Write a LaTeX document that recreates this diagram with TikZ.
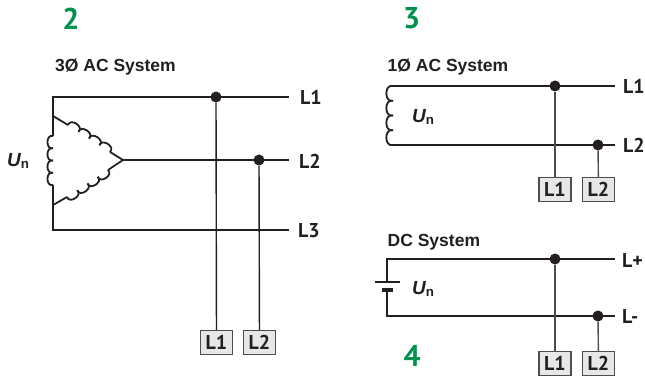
\documentclass[tikz,border=0pt]{standalone}
\usepackage{fontspec}
\setmainfont{Liberation Sans}
\newfontfamily\labelfont{PT Sans}
\usetikzlibrary{calc}
\definecolor{numgreen}{HTML}{00914C}
\definecolor{boxfill}{HTML}{E6E7E8}
\definecolor{boxline}{HTML}{4D4D4F}
\definecolor{wire}{HTML}{231F20}
\newcommand\un{{\bfseries\itshape U}\textsubscript{\bfseries n}}
\newcommand\windings[2]{\foreach \w/\v in {0/.25,.25/.5,.5/.75,.75/1}{\draw[leg] ($(#1)!\w!(#2)$) to[bend right=105, looseness=1.6] ($(#1)!\v!(#2)$);}}

\begin{document}
\begin{tikzpicture}[x = 1pt, y = -1pt,
  num/.style = {text = numgreen, inner sep = 0pt, font = \labelfont\fontsize{30}{30}\selectfont\bfseries},
  title/.style = {text = wire, anchor = west, inner sep = 0pt, font = \fontsize{17.5}{17.5}\selectfont\bfseries},
  lname/.style = {text = wire, anchor = west, inner sep = 0pt, font = \labelfont\fontsize{20}{20}\selectfont\bfseries},
  volt/.style = {text = wire, anchor = west, inner sep = 0pt, font = \fontsize{19}{19}\selectfont},
  tap/.style = {draw = boxline, fill = boxfill, line width = 1.2pt, minimum width = 32pt, minimum height = 24pt, inner sep = 0pt, text = wire, font = \labelfont\fontsize{20}{20}\selectfont\bfseries},
  dot/.style = {circle, fill = wire, minimum size = 11pt, inner sep = 0pt},
  main/.style = {draw = wire, line width = 2.4pt},
  thin/.style = {draw = wire, line width = 1.4pt},
  drop/.style = {draw = boxline, line width = 1.4pt},
  leg/.style = {draw = wire, line width = 1.8pt}]
\useasboundingbox (0,0) rectangle (645,377);

\node[num] (n2) at (71,18.5){2};
\node[num] (n3) at (411.5,18.5){3};
\node[num] (n4) at (412,355.5){4};

\node[title] (t3ph) at (55,67){3Ø AC System};
\node[title] (t1ph) at (387.5,67){1Ø AC System};
\node[title] (tdc) at (387.5,242){DC System};

\node[lname] (a1) at (300,97){L1};
\node[lname] (a2) at (299,161){L2};
\node[lname] (a3) at (298,231){L3};
\node[lname] (b1) at (623,86){L1};
\node[lname] (b2) at (623,145){L2};
\node[lname] (c1) at (622,260){L+};
\node[lname] (c2) at (622,316){L-};

\node[volt] (ua) at (7,161){\un};
\node[volt] (ub) at (412,117){\un};
\node[volt] (uc) at (412,289){\un};

\node[tap] (ta1) at (216.5,342.5){L1};
\node[tap] (ta2) at (259.5,342.5){L2};
\node[tap] (tb1) at (555,189.5){L1};
\node[tap] (tb2) at (598.5,189.5){L2};
\node[tap] (tc1) at (555,363.5){L1};
\node[tap] (tc2) at (598.5,363.5){L2};

\node[dot] (da1) at (216,97){};
\node[dot] (da2) at (259,160){};
\node[dot] (db1) at (555,86){};
\node[dot] (db2) at (598,145){};
\node[dot] (dc1) at (555,259){};
\node[dot] (dc2) at (598,316){};

\coordinate (ac1) at (53,97);
\coordinate (ac2) at (53,136);
\coordinate (ac3) at (53,185);
\coordinate (ac4) at (53,230);
\coordinate (ae1) at (289,97);
\coordinate (ae2) at (289,160);
\coordinate (ae3) at (289,230);
\coordinate (apex) at (123,160);
\coordinate (tr1) at (53,116);
\coordinate (tr2) at (68,125);
\coordinate (tr3) at (110,152);
\coordinate (tr4) at (53,205);
\coordinate (tr5) at (67,197);
\coordinate (tr6) at (108,170);

\draw[main] (ae1) -- (ac1) -- (ac2);
\draw[main] (ac3) -- (ac4) -- (ae3);
\draw[main] (apex) -- (ae2);
\windings{ac2}{ac3}
\draw[leg] (tr1) -- (tr2);
\windings{tr3}{tr2}
\draw[leg] (tr3) -- (apex) -- (tr6);
\windings{tr5}{tr6}
\draw[leg] (tr5) -- (tr4);
\draw[thin] (da1) -- (ta1);
\draw[thin] (da2) -- (ta2);

\coordinate (bs1) at (393,86);
\coordinate (bs2) at (393,145);
\coordinate (be1) at (615,86);
\coordinate (be2) at (615,145);

\draw[main] (bs1) -- (be1);
\draw[main] (bs2) -- (be2);
\windings{bs1}{bs2}
\draw[drop] (db1) -- (tb1);
\draw[drop] (db2) -- (tb2);

\coordinate (cs1) at (387,259);
\coordinate (cs2) at (387,316);
\coordinate (ce1) at (615,259);
\coordinate (ce2) at (615,316);
\coordinate (cp1) at (387,282);
\coordinate (cp2) at (387,290);
\coordinate (cl1) at (375,282);
\coordinate (cl2) at (400,282);
\coordinate (cm1) at (382,290);
\coordinate (cm2) at (393,290);

\draw[main] (ce1) -- (cs1) -- (cp1);
\draw[main] (cp2) -- (cs2) -- (ce2);
\draw[main] (cl1) -- (cl2);
\draw[main, line width = 3.5pt] (cm1) -- (cm2);
\draw[drop] (dc1) -- (tc1);
\draw[drop] (dc2) -- (tc2);
\end{tikzpicture}
\end{document}
